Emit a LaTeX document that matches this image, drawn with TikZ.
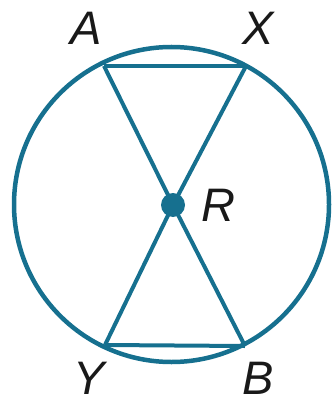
\documentclass[tikz,border=0pt]{standalone}
\usepackage{fontspec}
\setmainfont{Liberation Sans}
\usetikzlibrary{calc}
\definecolor{rim}{RGB}{22,112,143}
\tikzstyle{chord} = [%
					line width = 4pt, 
					color = rim]
\tikzstyle{rimline} = [%
					line width = 4.5pt, 
					color = rim]
\tikzstyle{lbl} = [%
					font = \fontsize{47}{47}\selectfont\itshape, 
					text = black!90, inner sep = 0pt]

\begin{document}
\begin{tikzpicture}[x=1pt,y=-1pt,dot/.style={circle,fill=rim,minimum size=#1,inner sep=0pt}]
	\useasboundingbox (0,0) rectangle (332,403);
	
	% Coordinates
	\coordinate (O) at (171.5,204.5);
	\coordinate (A) at (104,66);
	\coordinate (X) at (246,66);
	\coordinate (Y) at (105,345);
	\coordinate (B) at (245,346);
	
	% Nodes
	\node[dot=24pt] (R) at (173,205) {};
	\node[lbl] (a) at (86,28) {A};
	\node[lbl] (x) at (258,28) {X};
	\node[lbl] (y) at (89,378) {Y};
	\node[lbl] (b) at (258,378) {B};
	\node[lbl] (r) at (218,205) {R};
	
	% Circle
	\draw[rimline] (O) circle[radius=157.5pt];
	
	% Chords
	\draw[chord] (A) -- (R.center) -- (B);
	\draw[chord] (X) -- (R.center) -- (Y);
	\draw[chord] (A) -- (X);
	\draw[chord] (Y) -- (B);
\end{tikzpicture}
\end{document}
